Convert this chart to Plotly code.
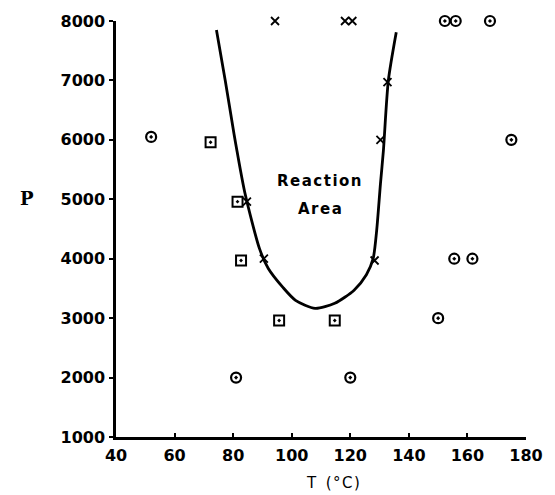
import plotly.graph_objects as go

# --- data ---
circle_T = [52, 81, 120, 150, 155.5, 161.7, 175, 152.3, 156, 167.7]
circle_P = [6050, 2000, 2000, 3000, 4000, 4000, 6000, 8000, 8000, 8000]

square_T = [72.3, 81.5, 82.7, 95.7, 114.7]
square_P = [5960, 4960, 3970, 2960, 2960]

cross_T = [84.7, 90.5, 94.3, 118.2, 120.7, 128.3, 130.3, 132.7]
cross_P = [4960, 4000, 8000, 8000, 8000, 3970, 6000, 6970]

curve_T = [74.3, 77.3, 80.3, 81.3, 84.0, 89.0, 92.0, 97.0, 101.3, 108.0, 114.7, 121.3, 125.5, 127.8, 129.0, 130.3, 131.3, 133.0, 135.7]
curve_P = [7850, 7000, 6100, 5815, 5110, 4170, 3835, 3517, 3300, 3165, 3250, 3470, 3730, 4000, 4470, 5260, 5815, 7000, 7810]

x_ticks = [40, 60, 80, 100, 120, 140, 160, 180]
y_ticks = [1000, 2000, 3000, 4000, 5000, 6000, 7000, 8000]

FONT = "DejaVu Sans"
HS = "\u200a"


def spaced(s):
    return HS.join(list(s))


fig = go.Figure()
fig.add_trace(go.Scatter(x=curve_T, y=curve_P, mode="lines",
                         line=dict(color="black", width=2.8, shape="spline", smoothing=0.7),
                         hoverinfo="skip", cliponaxis=False))
fig.add_trace(go.Scatter(x=circle_T, y=circle_P, mode="markers",
                         marker=dict(symbol="circle-open-dot", size=10, color="black",
                                     line=dict(width=2.2, color="black")), cliponaxis=False))
fig.add_trace(go.Scatter(x=square_T, y=square_P, mode="markers",
                         marker=dict(symbol="square-open-dot", size=10, color="black",
                                     line=dict(width=2.0, color="black")), cliponaxis=False))
fig.add_trace(go.Scatter(x=cross_T, y=cross_P, mode="markers",
                         marker=dict(symbol="x-thin-open", size=8, color="black",
                                     line=dict(width=1.8, color="black")), cliponaxis=False))

fig.add_annotation(x=109.5, y=5310, text=spaced("Reaction"), showarrow=False,
                   font=dict(family=FONT, size=15, color="black", weight="bold"))
fig.add_annotation(x=109.5, y=4840, text=spaced("Area"), showarrow=False,
                   font=dict(family=FONT, size=15, color="black", weight="bold"))

fig.add_annotation(xref="paper", yref="paper", x=(338 - 116) / 420, y=-(483 - 437) / 417, yanchor="middle",
                   text=spaced("T") + "  " + spaced("(°C)"), showarrow=False,
                   font=dict(family=FONT, size=15, color="black"))
fig.add_annotation(xref="paper", yref="paper", x=(16 - 116) / 420, y=(437 - 198) / 417,
                   yanchor="middle", text="P", showarrow=False,
                   font=dict(family="DejaVu Serif", size=18, color="black", weight="bold"))

fig.update_layout(
    width=555, height=495,
    margin=dict(l=116, r=19, t=20, b=58),
    paper_bgcolor="white", plot_bgcolor="white",
    showlegend=False,
    xaxis=dict(range=[40, 180], tickvals=x_ticks, ticktext=[str(v) for v in x_ticks],
               showgrid=False, zeroline=False, showline=True, linecolor="black", linewidth=2.5,
               ticks="inside", ticklen=4, tickwidth=2, tickcolor="black",
               tickfont=dict(family=FONT, size=16, color="black", weight="bold"),
               ticklabelstandoff=2),
    yaxis=dict(range=[1000, 8000], tickvals=y_ticks, ticktext=[str(v) for v in y_ticks],
               showgrid=False, zeroline=False, showline=True, linecolor="black", linewidth=2.5,
               ticks="outside", ticklen=4, tickwidth=2, tickcolor="black",
               tickfont=dict(family=FONT, size=16, color="black", weight="bold"),
               ticklabelstandoff=1),
)

fig.write_html("out.html")
